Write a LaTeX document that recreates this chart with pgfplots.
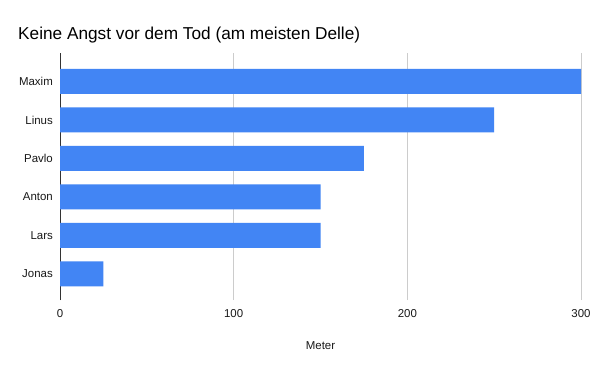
\documentclass[border=0pt]{standalone}
\usepackage{pgfplots}
\pgfplotsset{compat=1.18}
\usepackage{fontspec}
\setmainfont{Liberation Sans}
\definecolor{barblue}{HTML}{4285F4}
\definecolor{gridgray}{HTML}{CCCCCC}
\definecolor{axisdark}{HTML}{333333}
\begin{document}
\begin{tikzpicture}
\fill[white] (0bp,0bp) rectangle (600bp,371bp);
\node[anchor=base west, inner sep=0pt, font=\fontsize{17.3}{20}\selectfont] at (18bp,331.5bp) {Keine Angst vor dem Tod (am meisten Delle)};
\begin{axis}[
  at={(60bp,71bp)}, anchor=south west,
  scale only axis, width=521bp, height=247bp,
  xbar, bar width=25bp, bar shift=0pt,
  xmin=0, xmax=300, ymin=-0.68, ymax=5.74,
  xtick={0,100,200,300},
  ytick={0,1,2,3,4,5},
  yticklabels={Jonas,Lars,Anton,Pavlo,Linus,Maxim},
  axis lines*=left,
  x axis line style={draw=none},
  y axis line style={draw=axisdark, line width=1bp},
  xmajorgrids, grid style={draw=gridgray, line width=0.8bp},
  major tick length=0pt,
  tick label style={font=\fontsize{11.5}{13}\selectfont, text=black!90},
  /pgf/number format/assume math mode=true,
  xticklabel style={anchor=base, yshift=-17bp},
  yticklabel style={anchor=east, inner sep=0pt, xshift=-7bp},
  xlabel={Meter},
  xlabel style={at={(axis description cs:0.5,0)}, anchor=base, yshift=-49bp, font=\fontsize{11.5}{13}\selectfont, text=black!90},
]
\addplot[fill=barblue, draw=none] coordinates {(25,0) (150,1) (150,2) (175,3) (250,4) (300,5)};
\end{axis}
\end{tikzpicture}
\end{document}
